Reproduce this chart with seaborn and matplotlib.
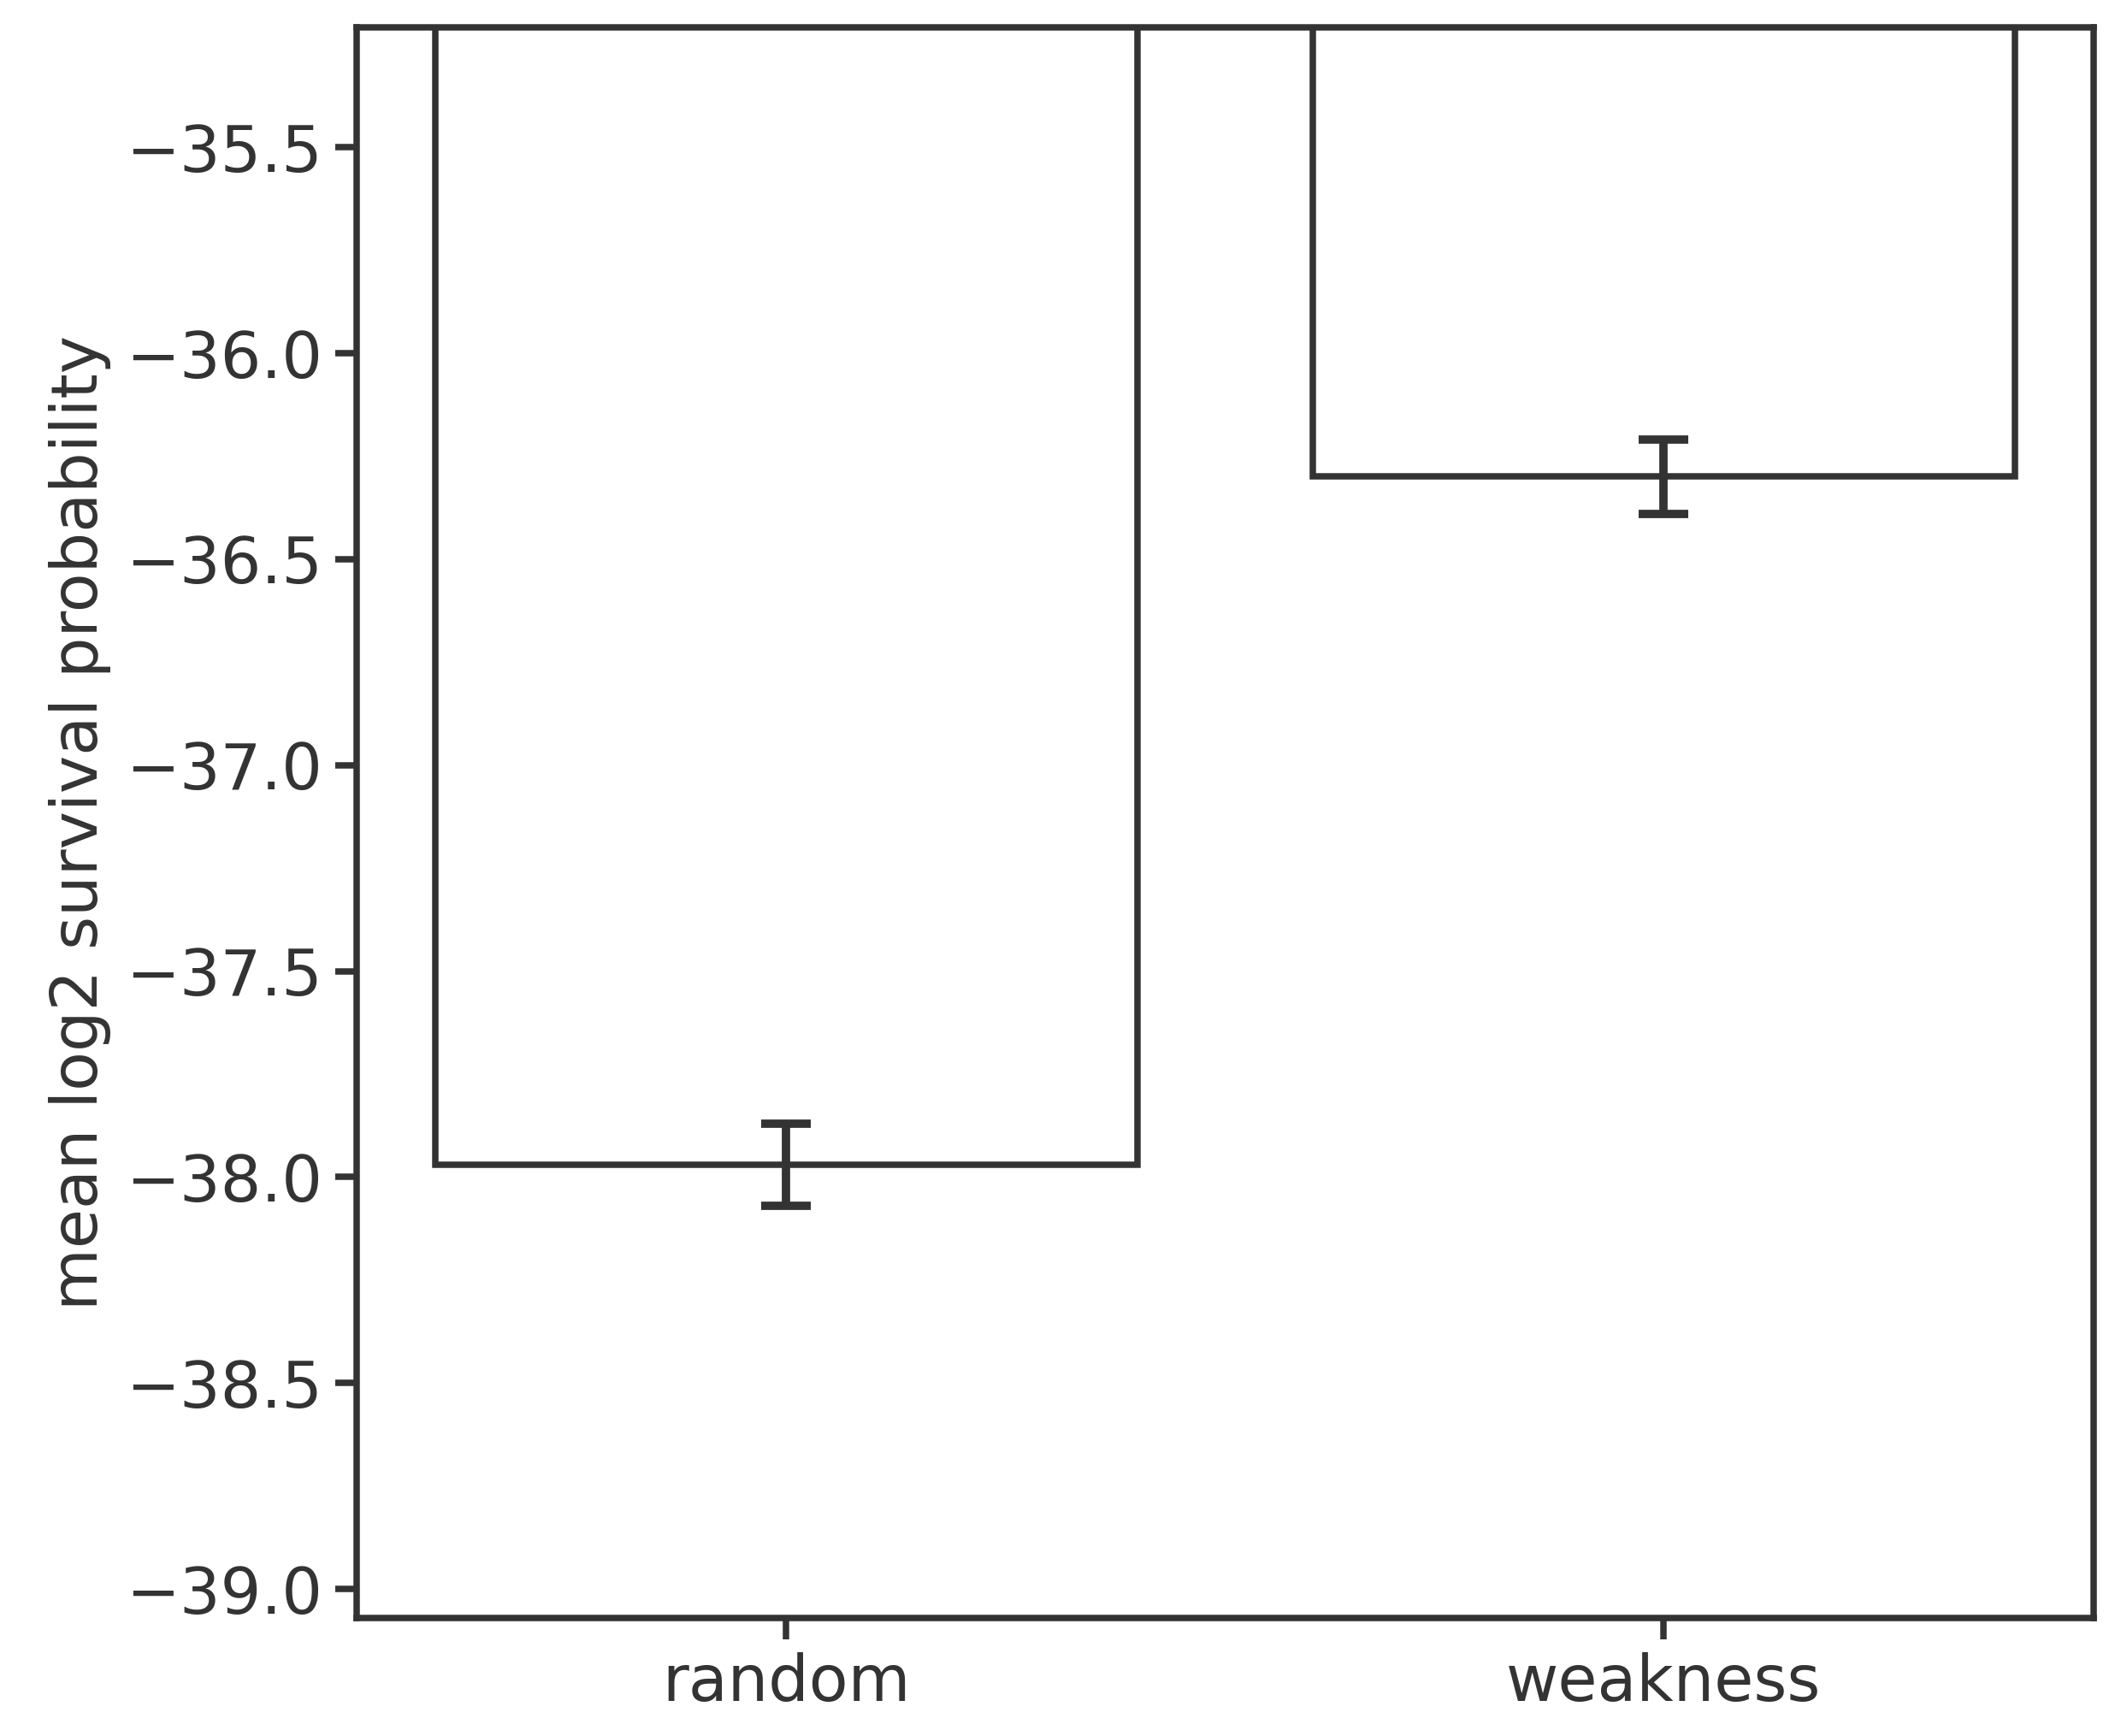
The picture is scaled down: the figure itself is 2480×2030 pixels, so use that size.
import matplotlib
matplotlib.use("Agg")
import matplotlib.pyplot as plt
import seaborn as sns
import pandas as pd

# values
strategies = ["random", "weakness"]
mean_log2 = [-37.97, -36.30]
err_low = [0.10, 0.09]
err_high = [0.10, 0.09]

df = pd.DataFrame({"strategy": strategies, "value": mean_log2})

sns.set_theme(style="ticks")
plt.rcParams["font.family"] = ["DejaVu Sans"]
dark = "#333333"
lw = 1.8

fig, ax = plt.subplots(figsize=(8.267, 6.767), dpi=300)
sns.barplot(data=df, x="strategy", y="value", color="white", edgecolor=dark,
            linewidth=lw, width=0.8, errorbar=None, ax=ax)
ax.errorbar(range(len(strategies)), mean_log2, yerr=[err_low, err_high],
            fmt="none", ecolor=dark, elinewidth=lw * 1.3, capsize=7, capthick=lw * 1.3)

ax.set_ylim(-39.07, -35.21)
ax.set_xlim(-0.49, 1.49)
ax.set_yticks([-39.0, -38.5, -38.0, -37.5, -37.0, -36.5, -36.0, -35.5])
ax.set_xlabel("")
ax.set_ylabel("mean log2 survival probability", fontsize=18, color=dark, labelpad=4)
ax.tick_params(labelsize=18, colors=dark, width=lw, length=6)
for s in ax.spines.values():
    s.set_color(dark)
    s.set_linewidth(lw)

plt.subplots_adjust(left=0.168, right=0.987, top=0.984, bottom=0.068)
plt.savefig("out.png", dpi=300)
